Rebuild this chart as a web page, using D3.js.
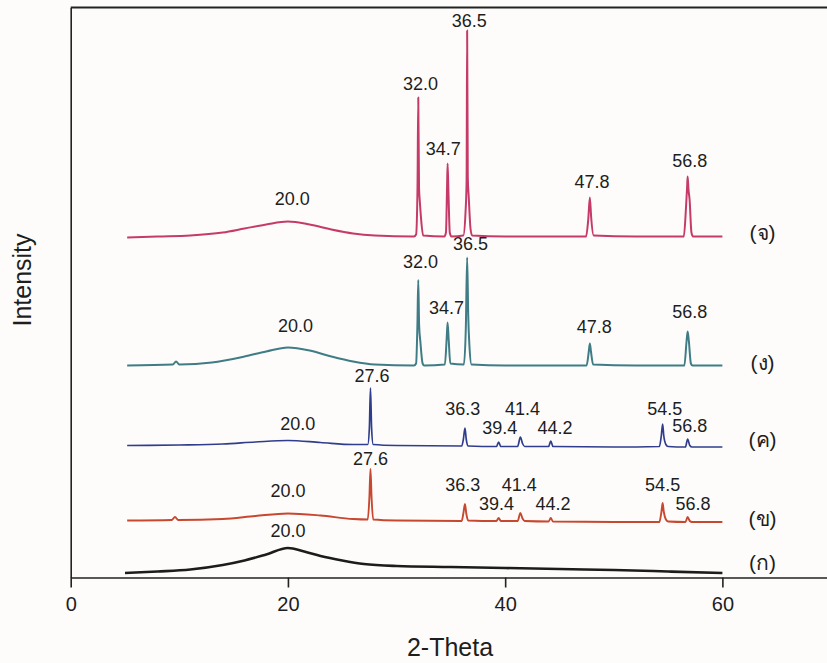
<!DOCTYPE html>
<html>
<head>
<meta charset="utf-8">
<script src="https://cdn.jsdelivr.net/npm/d3@7"></script>
<style>
  body { margin: 0; background: #fdfcfa; }
  svg { display: block; font-family: "Liberation Sans", Arial, sans-serif; }
  .peak-label { font-size: 18px; fill: #1e1e1e; text-anchor: middle; }
  .series-label { font-size: 21px; fill: #1e1e1e; text-anchor: middle; }
  .axis text { font-size: 20px; fill: #1e1e1e; font-family: "Liberation Sans", Arial, sans-serif; }
  .axis path, .axis line { stroke: #222; stroke-width: 1.6; }
</style>
</head>
<body>
<svg id="chart" width="827" height="663"></svg>
<script>
// x ticks
var xTicks = [0, 20, 40, 60];

// traces, [2-theta, intensity (a.u., stacked)]
var seriesE = [[5.2,340],[8,341],[11,342],[14,345],[16,349],[18,353],[20,356],[22,353],[24,348],[26,344],[28,342],[31.6,341],
	[31.8,343],[31.93,390],[32.0,480],[32.07,390],[32.15,375],[32.25,360],[32.45,342],
	[34.4,341],[34.55,345],[34.65,390],[34.7,414],[34.78,385],[34.9,345],[35.05,341],
	[36.15,342],[36.35,365],[36.45,397],[36.5,547],[36.56,400],[36.65,380],[36.8,350],[36.95,342],
	[40,341],[44,341],
	[47.45,341],[47.65,358],[47.8,380],[47.92,360],[48.15,342],
	[52,341],
	[56.45,341],[56.65,370],[56.75,390],[56.8,401],[56.88,388],[56.98,378],[57.15,345],[57.3,341],
	[60,341]]
var seriesD = [[5.2,212],[9.4,213],[9.7,216],[10.0,213],[13,215],[16,221],[18,226],[20,230],[22,227],[24,221],[26,216],[28,213],[31.6,212],
	[31.8,214],[31.92,252],[32.0,297.5],[32.08,252],[32.2,235],[32.4,214],[32.55,212],
	[34.45,213],[34.62,240],[34.7,255],[34.8,238],[34.95,214],
	[36.2,213],[36.38,250],[36.5,320],[36.6,262],[36.72,230],[36.9,213],
	[40,212],[45,212],
	[47.5,212],[47.7,226],[47.8,234],[47.9,226],[48.1,213],
	[52,212],
	[56.5,212],[56.7,236],[56.8,246],[56.9,238],[57.1,214],[57.25,212],
	[60,212]]
var seriesC = [[5.2,132],[10,132.5],[14,133.5],[17,135.5],[20,137],[23,135],[26,133],
	[27.35,133],[27.5,150],[27.6,189.5],[27.7,150],[27.85,133],
	[30,132],[36.0,131.5],[36.15,138],[36.3,149.5],[36.42,138],[36.6,131.5],
	[39.2,131],[39.4,135.5],[39.6,131],
	[41.15,131],[41.4,140.5],[41.6,134],[41.8,131],
	[44.0,131],[44.2,136.5],[44.4,131],
	[50,130.5],[54.2,131],[54.38,142],[54.5,153.5],[54.6,142],[54.8,133],[55.0,131],
	[56.6,130.5],[56.8,138.5],[57.0,132],[57.2,130.5],
	[60,130.5]]
var seriesB = [[5.2,57],[9.3,57.5],[9.6,60.5],[9.9,57.5],[14,58.5],[17,61.5],[20,64],[23,62],[26,58.5],
	[27.35,58],[27.5,80],[27.6,108.5],[27.7,80],[27.85,58],
	[30,57],[36.0,56.5],[36.15,64],[36.3,73.5],[36.42,64],[36.6,57],
	[39.2,56.5],[39.4,59.5],[39.6,56.5],
	[41.15,56.5],[41.4,64.5],[41.6,59],[41.8,56.5],
	[44.0,56],[44.2,59.5],[44.4,56],
	[50,55.5],[54.2,55.5],[54.38,65],[54.5,74.5],[54.6,66],[54.8,58],[55.0,56],
	[56.6,55.5],[56.8,60.5],[57.0,56.5],[57.2,55.5],
	[60,55.5]]
var seriesA = [[5.0,4.5],[8,6],[11,8],[14,12.5],[16,17],[18,23],[20,29.5],[21.5,26],[23,21.5],[25,17],[27,13.5],[30,11.5],
	[35,10.5],[40,9.5],[45,8.5],[50,7.5],[55,6],[60,4.5]]

// peak annotations: [text, 2-theta, intensity]
var labelsE = [["20.0",20.4,372.5],["32.0",32.2,487.5],["34.7",34.3,422.5],["36.5",36.7,550.5],["47.8",48.0,389.5],["56.8",57.0,410.5]]
var labelsD = [["20.0",20.7,245.5],["32.0",32.2,309.5],["34.7",34.6,263.5],["36.5",36.8,327.5],["47.8",48.2,244.5],["56.8",57.0,259.5]]
var labelsC = [["27.6",27.75,195.5],["20.0",20.9,147.5],["36.3",36.1,162.5],["41.4",41.6,162.5],["39.4",39.5,143.5],["44.2",44.6,143.5],["54.5",54.7,162.5],["56.8",57.0,145.5]]
var labelsB = [["27.6",27.6,112.5],["20.0",20.0,80.5],["36.3",36.1,86.5],["41.4",41.3,86.5],["39.4",39.2,67.5],["44.2",44.4,67.5],["54.5",54.5,86.5],["56.8",57.3,67.5]]
var labelsA = [["20.0",20.0,40.5]]

// sample names, level of each name
var sampleNames = ["(ก)", "(ข)", "(ค)", "(ง)", "(จ)"]
var sampleLevels = [7.5, 51.5, 130.5, 207.5, 337.5]

var svg = d3.select("#chart")

var x = d3.scaleLinear().domain([0, 70]).range([70.7, 831])
var y = d3.scaleLinear().domain([0, 570]).range([577.5, 7.5])

var line = d3.line()
	.curve(d3.curveMonotoneX)
	.x(function(d) { return x(d[0]) })
	.y(function(d) { return y(d[1]) })

var traces = [
	{data: seriesA, labels: labelsA, color: "#1c1c1c", width: 2.6},
	{data: seriesB, labels: labelsB, color: "#c8472f", width: 1.9},
	{data: seriesC, labels: labelsC, color: "#2f3d8c", width: 1.7},
	{data: seriesD, labels: labelsD, color: "#3f7c86", width: 2},
	{data: seriesE, labels: labelsE, color: "#c53a68", width: 2}
]

traces.forEach(function(t) {
	svg.append("path")
		.datum(t.data)
		.attr("fill", "none")
		.attr("stroke", t.color)
		.attr("stroke-width", t.width)
		.attr("stroke-linejoin", "round")
		.attr("d", line)
	svg.selectAll(null)
		.data(t.labels)
		.enter().append("text")
		.attr("class", "peak-label")
		.attr("x", function(d) { return x(d[1]) })
		.attr("y", function(d) { return y(d[2]) })
		.text(function(d) { return d[0] })
})

svg.selectAll(".series-label")
	.data(sampleNames)
	.enter().append("text")
	.attr("class", "series-label")
	.attr("x", x(63.7))
	.attr("y", function(d, i) { return y(sampleLevels[i]) })
	.text(function(d) { return d })

// frame
svg.append("g")
	.attr("class", "axis")
	.attr("transform", "translate(0," + y(0) + ")")
	.call(d3.axisBottom(x).tickValues(xTicks).tickSize(10).tickSizeOuter(0).tickPadding(9))
svg.append("g")
	.attr("class", "axis")
	.attr("transform", "translate(" + x(0) + ",0)")
	.call(d3.axisLeft(y).tickValues([]).tickSizeOuter(0))
svg.append("line")
	.attr("x1", x(0)).attr("x2", x(70))
	.attr("y1", y(570)).attr("y2", y(570))
	.attr("stroke", "#222")
	.attr("stroke-width", 2.2)

svg.append("text")
	.attr("x", 450)
	.attr("y", 656)
	.attr("text-anchor", "middle")
	.style("font-size", "25px")
	.style("fill", "#1e1e1e")
	.text("2-Theta")

svg.append("text")
	.attr("transform", "translate(31,280) rotate(-90)")
	.attr("text-anchor", "middle")
	.style("font-size", "25px")
	.style("fill", "#1e1e1e")
	.text("Intensity")
</script>
</body>
</html>
